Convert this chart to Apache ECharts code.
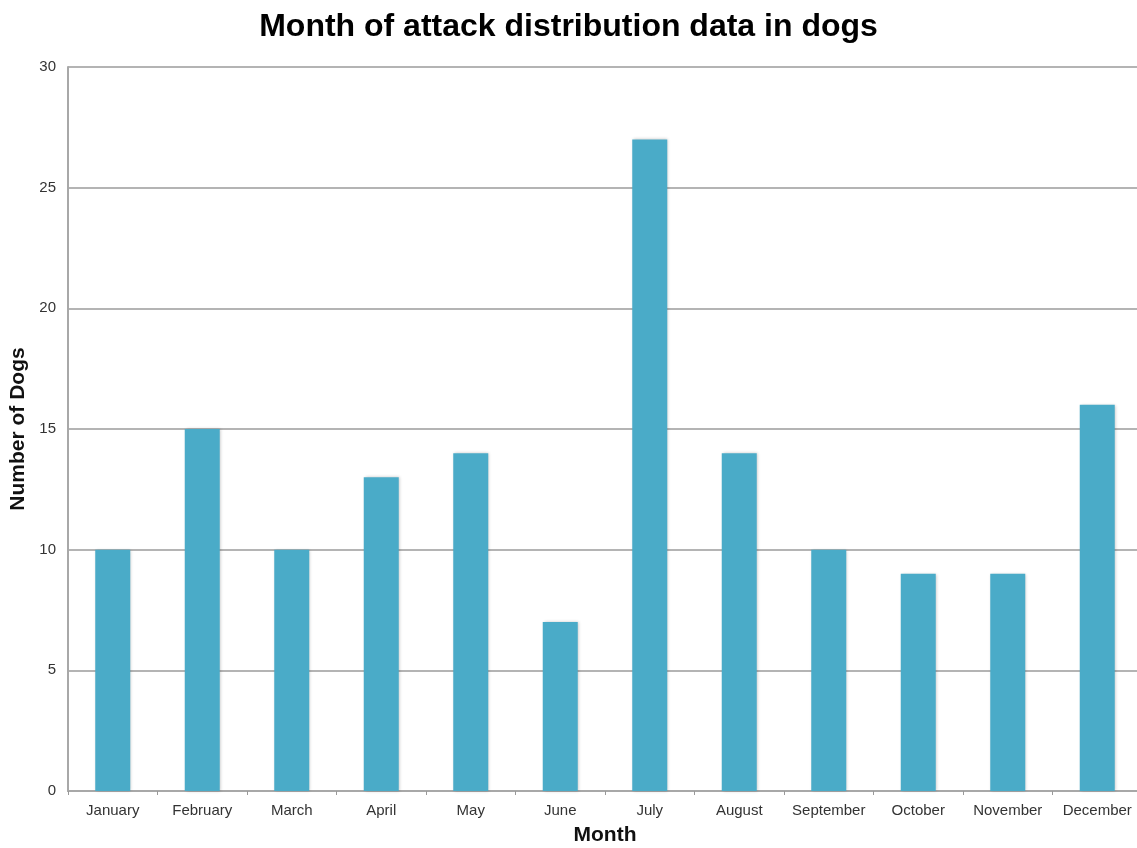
<!DOCTYPE html>
<html>
<head>
<meta charset="utf-8">
<script src="https://cdn.jsdelivr.net/npm/echarts@6/dist/echarts.min.js"></script>
<style>html,body{margin:0;padding:0;background:#fff;}#main{width:1137px;height:848px;}</style>
</head>
<body>
<div id="main"></div>
<script>
const months = ['January','February','March','April','May','June','July','August','September','October','November','December'];
const dogs = [10, 15, 10, 13, 14, 7, 27, 14, 10, 9, 9, 16];
const yTicks = [0, 5, 10, 15, 20, 25, 30];

const chart = echarts.init(document.getElementById('main'));
chart.setOption({
  animation: false,
  title: {
    text: 'Month of attack distribution data in dogs',
    left: 'center', top: 6,
    textStyle: { fontFamily: 'Liberation Sans, Arial, sans-serif', fontSize: 32, fontWeight: 'bold', color: '#000' }
  },
  grid: { left: 68, width: 1074, top: 67, bottom: 57, outerBoundsMode: 'none', containLabel: false },
  xAxis: {
    type: 'category',
    data: months,
    name: 'Month',
    nameLocation: 'middle',
    nameGap: 34,
    nameTextStyle: { fontFamily: 'Liberation Sans, Arial, sans-serif', fontSize: 21, fontWeight: 'bold', color: '#111' },
    axisLine: { lineStyle: { color: '#a8a8a8', width: 2 } },
    axisTick: { show: true, length: 4, lineStyle: { color: '#999', width: 1 } },
    axisLabel: { fontFamily: 'Liberation Sans, Arial, sans-serif', fontSize: 15, color: '#333', margin: 12, interval: 0 }
  },
  yAxis: {
    type: 'value',
    min: yTicks[0], max: yTicks[yTicks.length - 1], interval: 5,
    name: 'Number of Dogs',
    nameLocation: 'middle',
    nameGap: 35,
    nameTextStyle: { fontFamily: 'Liberation Sans, Arial, sans-serif', fontSize: 21, fontWeight: 'bold', color: '#111' },
    axisLine: { show: true, lineStyle: { color: '#a8a8a8', width: 2 } },
    axisTick: { show: false },
    axisLabel: { fontFamily: 'Liberation Sans, Arial, sans-serif', fontSize: 15, color: '#333', margin: 12 },
    splitLine: { lineStyle: { color: '#b4b4b4', width: 2 } }
  },
  series: [{
    type: 'bar',
    data: dogs,
    barWidth: 35,
    itemStyle: {
      color: '#4aabc8',
      shadowColor: 'rgba(0,0,0,0.22)',
      shadowBlur: 3,
      shadowOffsetX: 1,
      shadowOffsetY: 0
    }
  }]
});
</script>
</body>
</html>
